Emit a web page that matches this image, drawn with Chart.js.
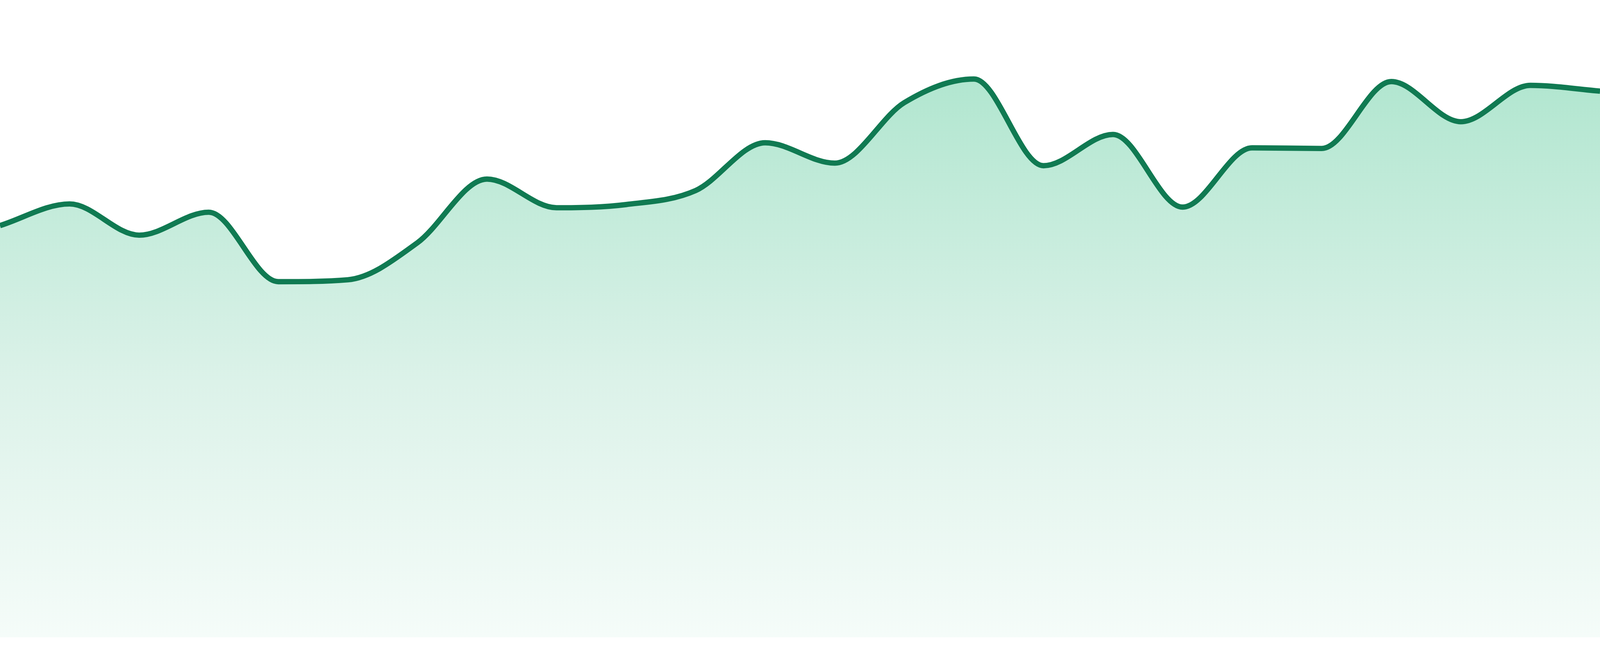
<!DOCTYPE html>
<html>
<head>
<meta charset="utf-8">
<script src="https://cdn.jsdelivr.net/npm/chart.js@4"></script>
<style>
  html, body { margin: 0; padding: 0; background: #ffffff; overflow: hidden; }
  .wrap { width: 100vw; height: 100vh; position: relative; }
</style>
</head>
<body>
<div class="wrap"><canvas id="trendChart"></canvas></div>
<script>
const labels = ['1','2','3','4','5','6','7','8','9','10','11','12',
                '13','14','15','16','17','18','19','20','21','22','23','24'];
const values = [64.6, 68.0, 63.1, 66.7, 55.8, 56.1, 61.9, 71.9, 67.4, 67.9, 70.1, 77.6,
                74.4, 83.9, 87.6, 74.0, 78.9, 67.5, 76.8, 76.7, 87.2, 80.9, 86.6, 85.7];
const yMin = 0;
const yMax = 100;

// the reference was drawn at 4800x1680, scale sizes to whatever the viewport is
const sx = window.innerWidth / 4800;
const sy = window.innerHeight / 1680;

function areaGradient(context) {
    const chart = context.chart;
    const area = chart.chartArea;
    if (!area) return 'rgba(16, 185, 129, 0.3)';
    const g = chart.ctx.createLinearGradient(0, area.top, 0, area.bottom);
    g.addColorStop(0, 'rgb(166, 227, 201)');
    g.addColorStop(0.6, 'rgb(220, 242, 233)');
    g.addColorStop(1, 'rgb(245, 252, 249)');
    return g;
}

const ctx = document.getElementById('trendChart').getContext('2d');
new Chart(ctx, {
    type: 'line',
    data: {
        labels: labels,
        datasets: [{
            data: values,
            borderColor: '#107a52',
            borderWidth: Math.max(1, 16 * sx),
            backgroundColor: areaGradient,
            fill: 'origin',
            pointRadius: 0,
            pointHoverRadius: 0,
            cubicInterpolationMode: 'monotone'
        }]
    },
    options: {
        responsive: true,
        maintainAspectRatio: false,
        animation: false,
        layout: { padding: { top: 0, left: 0, right: 0, bottom: 48 * sy } },
        plugins: {
            legend: { display: false },
            tooltip: { enabled: false }
        },
        scales: {
            x: { display: false, offset: false },
            y: { display: false, min: yMin, max: yMax }
        }
    }
});
</script>
</body>
</html>
